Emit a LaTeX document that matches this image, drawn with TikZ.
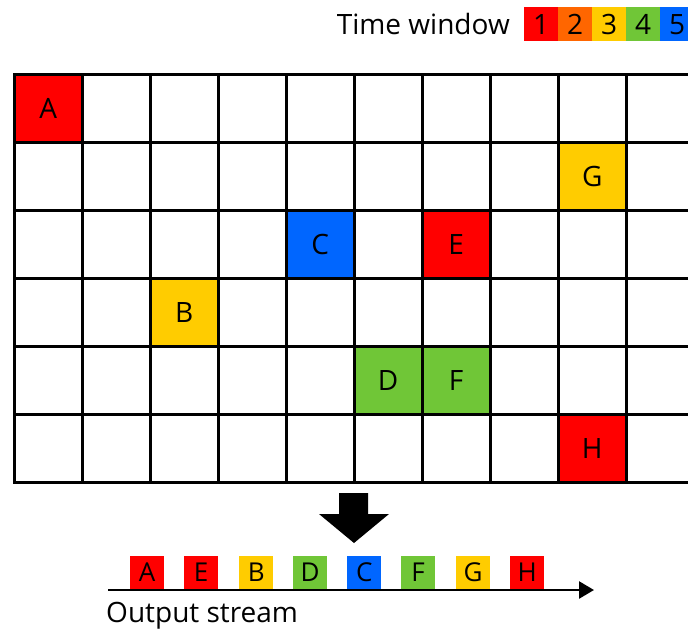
\documentclass[tikz,border=0pt]{standalone}
\usepackage{fontspec}
\setmainfont{Open Sans}
\usetikzlibrary{arrows.meta}
\definecolor{cred}{HTML}{FF0000}
\definecolor{corange}{HTML}{FF6600}
\definecolor{cyellow}{HTML}{FFCC00}
\definecolor{cgreen}{HTML}{70C637}
\definecolor{cblue}{HTML}{0066FF}
\tikzset{
  txt/.style={font=\fontsize{28}{30}\selectfont, inner sep=0pt},
  cell/.style={txt, minimum width=68pt, minimum height=68pt, anchor=north west},
  legbox/.style={txt, minimum width=34pt, minimum height=34pt, anchor=north west},
  sbox/.style={txt, font=\fontsize{26}{28}\selectfont, minimum width=34pt, minimum height=33pt, anchor=south west},
  gridline/.style={line width=3pt, line cap=rect}
}
\begin{document}
\begin{tikzpicture}[x=1pt,y=-1pt]
\useasboundingbox (0,0) rectangle (688,632);
\fill[white] (0,0) rectangle (688,632);
\begin{scope}
\clip (0,0) rectangle (688,632);
% legend
\node[txt, anchor=east] (tw) at (510,24) {Time window};
\node[legbox, fill=cred] (l1) at (524,7) {1};
\node[legbox, fill=corange] (l2) at (558,7) {2};
\node[legbox, fill=cyellow] (l3) at (592,7) {3};
\node[legbox, fill=cgreen] (l4) at (626,7) {4};
\node[legbox, fill=cblue] (l5) at (660,7) {5};
% coloured cells
\node[cell, fill=cred] (A) at (14,74) {A};
\node[cell, fill=cyellow] (G) at (558,142) {G};
\node[cell, fill=cblue] (C) at (286,210) {C};
\node[cell, fill=cred] (E) at (422,210) {E};
\node[cell, fill=cyellow] (B) at (150,278) {B};
\node[cell, fill=cgreen] (D) at (354,346) {D};
\node[cell, fill=cgreen] (F) at (422,346) {F};
\node[cell, fill=cred] (H) at (558,414) {H};
% grid
\foreach \i in {0,...,10} \draw[gridline] (14+68*\i,74) -- (14+68*\i,482);
\foreach \j in {0,...,6} \draw[gridline] (14,74+68*\j) -- (700,74+68*\j);
\end{scope}
% down arrow
\fill[black] (339,493) -- (368,493) -- (368,514) -- (389,514) -- (354,543) -- (319,514) -- (339,514) -- cycle;
% stream
\coordinate (s0) at (108,590);
\coordinate (s1) at (594,590);
\draw[line width=2.5pt, -{Triangle[length=15pt,width=17pt]}] (s0) -- (s1);
\node[sbox, fill=cred] (oA) at (130,589) {A};
\node[sbox, fill=cred] (oE) at (184,589) {E};
\node[sbox, fill=cyellow] (oB) at (239,589) {B};
\node[sbox, fill=cgreen] (oD) at (293,589) {D};
\node[sbox, fill=cblue] (oC) at (347,589) {C};
\node[sbox, fill=cgreen] (oF) at (401,589) {F};
\node[sbox, fill=cyellow] (oG) at (456,589) {G};
\node[sbox, fill=cred] (oH) at (510,589) {H};
\node[txt, anchor=west] (os) at (106,616) {Output stream};
\end{tikzpicture}
\end{document}
